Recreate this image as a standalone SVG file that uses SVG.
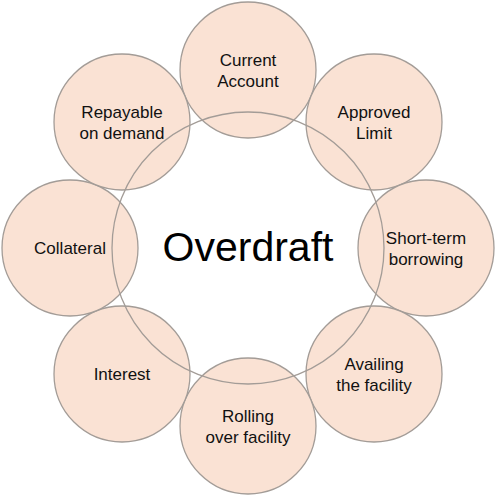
<svg xmlns="http://www.w3.org/2000/svg" width="496" height="500" viewBox="0 0 496 500">
<style>
.sat{fill:#fae2d4;stroke:#a39c97;stroke-width:1.3}
.hub{fill:none;stroke:#a39c97;stroke-width:1.3}
.t{font-family:"Liberation Sans",Arial,sans-serif;font-size:17px;fill:#111;text-anchor:middle}
.big{font-family:"Liberation Sans",Arial,sans-serif;font-size:41px;fill:#000;text-anchor:middle}
</style>
<rect width="496" height="500" fill="#fff"/>
<g id="node-current-account"><circle class="sat" cx="248" cy="70" r="68"/><text class="t" x="248" y="66">Current</text><text class="t" x="248" y="86.5">Account</text></g>
<g id="node-approved-limit"><circle class="sat" cx="374" cy="122" r="68"/><text class="t" x="374" y="118">Approved</text><text class="t" x="374" y="138.5">Limit</text></g>
<g id="node-short-term"><circle class="sat" cx="426" cy="248" r="68"/><text class="t" x="426" y="244">Short-term</text><text class="t" x="426" y="264.5">borrowing</text></g>
<g id="node-availing"><circle class="sat" cx="374" cy="374" r="68"/><text class="t" x="374" y="370">Availing</text><text class="t" x="374" y="390.5">the facility</text></g>
<g id="node-rolling"><circle class="sat" cx="248" cy="426" r="68"/><text class="t" x="248" y="422">Rolling</text><text class="t" x="248" y="442.5">over facility</text></g>
<g id="node-interest"><circle class="sat" cx="122" cy="374" r="68"/><text class="t" x="122" y="380">Interest</text></g>
<g id="node-collateral"><circle class="sat" cx="70" cy="248" r="68"/><text class="t" x="70" y="254">Collateral</text></g>
<g id="node-repayable"><circle class="sat" cx="122" cy="122" r="68"/><text class="t" x="122" y="118">Repayable</text><text class="t" x="122" y="138.5">on demand</text></g>
<g id="connectors"></g>
<g id="node-overdraft"><circle class="hub" cx="248" cy="248" r="136"/><text class="big" x="248" y="261">Overdraft</text></g>
</svg>
